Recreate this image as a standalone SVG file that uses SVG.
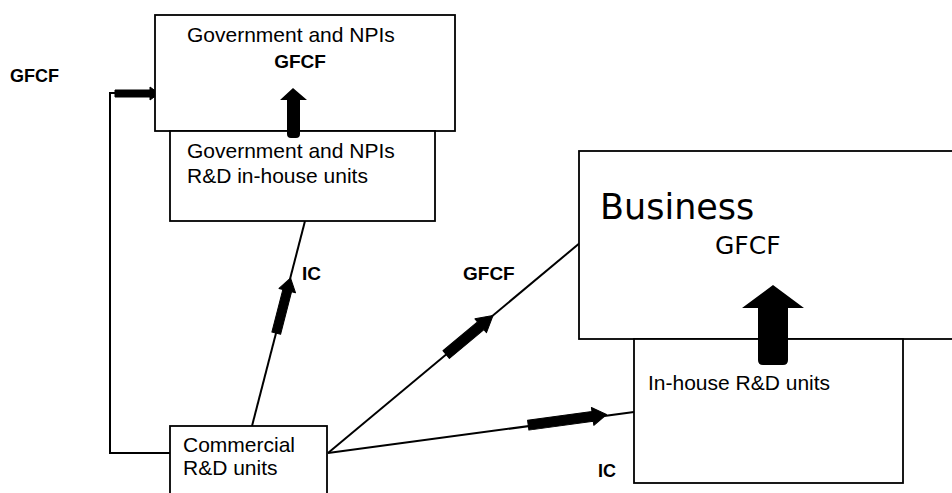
<svg xmlns="http://www.w3.org/2000/svg" width="952" height="493" viewBox="0 0 952 493">
<style>
.box{fill:#fff;stroke:#000;stroke-width:1.8}
.t{font-family:"Liberation Sans",Arial,sans-serif;font-size:21px;fill:#000}
.b{font-family:"Liberation Sans",Arial,sans-serif;font-weight:bold;fill:#000}
.v{font-family:"DejaVu Sans",Tahoma,sans-serif;fill:#000}
.ln{fill:none;stroke:#000;stroke-width:2}
.ta{fill:#000;stroke:#000;stroke-width:1;stroke-linejoin:round}
</style>
<rect width="952" height="493" fill="#fff"/>
<g id="connectors">
<path class="ln" d="M170,453 H110 V93 H155"/>
<path class="ta" d="M-44,-3.5 H-9 V-6.5 L0,0 L-9,6.5 V3.5 H-44 Z" transform="translate(159,93.5)"/>
<line class="ln" x1="252" y1="426" x2="305" y2="221"/>
<path class="ta" d="M-57,-4.5 H-13 V-8.5 L0,0 L-13,8.5 V4.5 H-57 Z" transform="translate(290.5,278) rotate(-75.5)"/>
<line class="ln" x1="328" y1="453" x2="581" y2="242"/>
<path class="ta" d="M-61,-5 H-16 V-9 L0,0 L-16,9 V5 H-61 Z" transform="translate(493,315.5) rotate(-39.85)"/>
<line class="ln" x1="328" y1="453" x2="634" y2="412"/>
<path class="ta" d="M-79,-5 H-14 V-9 L0,0 L-14,9 V5 H-79 Z" transform="translate(606.5,414.5) rotate(-7.76)"/>
</g>
<text class="b" x="10" y="82" font-size="18">GFCF</text>
<text class="b" x="302" y="280" font-size="19">IC</text>
<text class="b" x="463" y="280" font-size="19">GFCF</text>
<text class="b" x="598" y="477" font-size="18">IC</text>
<g id="gov">
<rect class="box" x="155" y="15" width="300" height="116"/>
<text class="t" x="187" y="42">Government and NPIs</text>
<text class="b" x="300" y="68" font-size="19" text-anchor="middle">GFCF</text>
</g>
<g id="gov-rd">
<rect class="box" x="170" y="131" width="265" height="90"/>
<text class="t" x="187" y="158">Government and NPIs</text>
<text class="t" x="187" y="183">R&amp;D in-house units</text>
</g>
<g id="gov-arrow">
<path d="M293,88 L307,100 H300 V134 Q300,138 296,138 H291 Q287,138 287,134 V100 H280 Z" fill="#000"/>
</g>
<g id="business">
<rect class="box" x="579" y="151" width="380" height="188"/>
<text class="v" x="600" y="219" font-size="35">Business</text>
<text class="v" x="715" y="254" font-size="25">GFCF</text>
</g>
<g id="inhouse">
<rect class="box" x="634" y="339" width="269" height="144"/>
<text class="t" x="648" y="390">In-house R&amp;D units</text>
</g>
<g id="biz-arrow">
<path d="M773,285 L804,308 H788 V360 Q788,365 783,365 H763 Q758,365 758,360 V308 H742 Z" fill="#000"/>
</g>
<g id="commercial">
<rect class="box" x="170" y="426" width="157" height="80"/>
<text class="t" x="183" y="452">Commercial</text>
<text class="t" x="183" y="475">R&amp;D units</text>
</g>
</svg>
